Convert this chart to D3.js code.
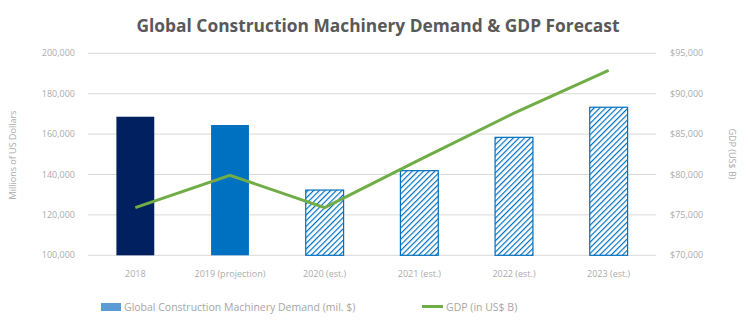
<!DOCTYPE html>
<html lang="en">
<head>
  <meta charset="utf-8">
  <title>Global Construction Machinery Demand & GDP Forecast</title>
  <script src="https://cdnjs.cloudflare.com/ajax/libs/d3/7.8.5/d3.min.js"></script>
  <style>
    body { margin: 0; background: #fff; }
    text { font-family: "Open Sans", "Liberation Sans", sans-serif; }
    .grid line { stroke: #d9d9d9; stroke-width: 1; }
    .tick-label { fill: #ababab; font-size: 9px; }
    .axis-title { fill: #ababab; font-size: 9px; }
    .legend-text { fill: #a6a6a6; font-size: 10.5px; }
  </style>
</head>
<body>
<svg id="chart" width="750" height="332"></svg>
<script>
  // data
  var years = ["2018", "2019 (projection)", "2020 (est.)", "2021 (est.)", "2022 (est.)", "2023 (est.)"];
  var demand = [168600, 164500, 132300, 141900, 158400, 173300];   // left axis
  var gdp = [75900, 79900, 75900, 81800, 87600, 92900];             // right axis
  var leftTicks = [100000, 120000, 140000, 160000, 180000, 200000];
  var rightTicks = [70000, 75000, 80000, 85000, 90000, 95000];
  var barFill = ["#002060", "#0070C0", "hatch", "hatch", "hatch", "hatch"];

  var svg = d3.select("#chart");
  var margin = { top: 53.3, right: 94, bottom: 76.7, left: 88 };
  var width = 750 - margin.left - margin.right,
    height = 332 - margin.top - margin.bottom;

  // hatch pattern for the forecast bars
  var defs = svg.append("defs");
  var pat = defs.append("pattern")
    .attr("id", "hatch")
    .attr("patternUnits", "userSpaceOnUse")
    .attr("width", 4)
    .attr("height", 4)
    .attr("patternTransform", "rotate(45)");
  pat.append("rect").attr("width", 4).attr("height", 4).attr("fill", "#fff");
  pat.append("line")
    .attr("x1", 0).attr("y1", 0).attr("x2", 0).attr("y2", 4)
    .attr("stroke", "#0070C0").attr("stroke-width", 2.4);

  var g = svg.append("g")
    .attr("transform", "translate(" + margin.left + "," + margin.top + ")");

  var x = d3.scaleBand().domain(years).range([0, width]).paddingInner(0.6).paddingOuter(0.3);
  var yL = d3.scaleLinear().domain([100000, 200000]).range([height, 0]);
  var yR = d3.scaleLinear().domain([70000, 95000]).range([height, 0]);

  // gridlines
  g.append("g").attr("class", "grid")
    .selectAll("line").data(leftTicks).join("line")
    .attr("x1", 0).attr("x2", width)
    .attr("y1", function (d) { return yL(d); })
    .attr("y2", function (d) { return yL(d); });

  // left axis labels
  var fmt = d3.format(",");
  g.append("g").selectAll("text").data(leftTicks).join("text")
    .attr("class", "tick-label")
    .attr("x", -13).attr("y", function (d) { return yL(d); })
    .attr("dy", "0.35em").attr("text-anchor", "end")
    .text(function (d) { return fmt(d); });

  // right axis labels
  g.append("g").selectAll("text").data(rightTicks).join("text")
    .attr("class", "tick-label")
    .attr("x", width + 14).attr("y", function (d) { return yR(d); })
    .attr("dy", "0.35em").attr("text-anchor", "start")
    .text(function (d) { return "$" + fmt(d); });

  // bars
  g.append("g").selectAll("rect").data(demand).join("rect")
    .attr("x", function (d, i) { return x(years[i]); })
    .attr("y", function (d) { return yL(d); })
    .attr("width", x.bandwidth())
    .attr("height", function (d) { return height - yL(d); })
    .attr("fill", function (d, i) { return barFill[i] === "hatch" ? "url(#hatch)" : barFill[i]; })
    .attr("stroke", function (d, i) { return barFill[i] === "hatch" ? "#0070C0" : "none"; })
    .attr("stroke-width", 1.2);

  // GDP line
  var line = d3.line()
    .x(function (d, i) { return x(years[i]) + x.bandwidth() / 2; })
    .y(function (d) { return yR(d); });
  g.append("path").datum(gdp)
    .attr("fill", "none")
    .attr("stroke", "#70AD47")
    .attr("stroke-width", 3)
    .attr("d", line);

  // category labels
  g.append("g").selectAll("text").data(years).join("text")
    .attr("class", "tick-label")
    .attr("x", function (d) { return x(d) + x.bandwidth() / 2; })
    .attr("y", height + 22)
    .attr("text-anchor", "middle")
    .text(function (d) { return d; });

  // axis titles
  svg.append("text").attr("class", "axis-title")
    .attr("transform", "translate(16,155) rotate(-90)")
    .attr("text-anchor", "middle")
    .text("Millions of US Dollars");
  svg.append("text").attr("class", "axis-title")
    .attr("transform", "translate(729,154) rotate(90)")
    .attr("text-anchor", "middle")
    .text("GDP (US$ B)");

  // title
  svg.append("text")
    .attr("x", 378).attr("y", 32)
    .attr("text-anchor", "middle")
    .attr("fill", "#595959")
    .attr("font-size", "17px")
    .attr("font-weight", "bold")
    .attr("textLength", 483)
    .attr("lengthAdjust", "spacingAndGlyphs")
    .text("Global Construction Machinery Demand & GDP Forecast");

  // legend
  var leg = svg.append("g");
  leg.append("rect").attr("x", 101).attr("y", 303).attr("width", 20).attr("height", 8).attr("fill", "#5B9BD5");
  leg.append("text").attr("class", "legend-text").attr("x", 124).attr("y", 310.5)
    .text("Global Construction Machinery Demand (mil. $)");
  leg.append("line").attr("x1", 422).attr("x2", 443).attr("y1", 306.5).attr("y2", 306.5)
    .attr("stroke", "#70AD47").attr("stroke-width", 3);
  leg.append("text").attr("class", "legend-text").attr("x", 446).attr("y", 310.5)
    .text("GDP (in US$ B)");
</script>
</body>
</html>
